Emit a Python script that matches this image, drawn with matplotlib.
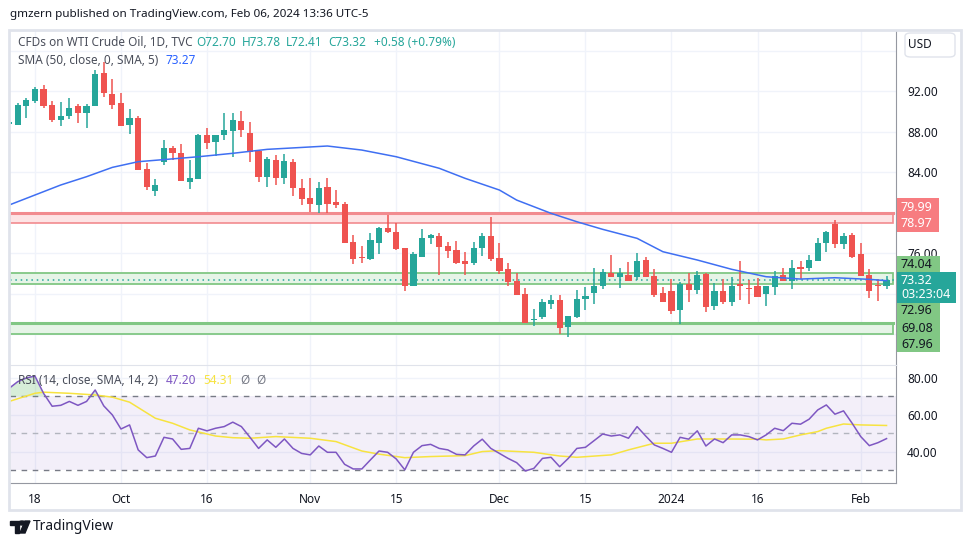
import numpy as np
import matplotlib.pyplot as plt
from matplotlib.patches import Rectangle, FancyBboxPatch, Polygon, Circle

W, H = 970, 545

# daily candles, Sep 13 2023 .. Feb 06 2024
opens = [88.7, 88.6, 90.5, 91.0, 92.2, 90.6, 89.1, 89.5, 90.5, 89.8,
         90.5, 93.75, 91.7, 90.85, 88.6, 89.35, 84.3, 82.15, 84.95, 86.35,
         85.85, 83.05, 83.3, 87.65, 87.0, 87.7, 88.05, 89.0, 87.9, 86.05,
         83.55, 85.2, 83.45, 85.0, 82.4, 81.4, 80.7, 82.5, 81.0, 80.85,
         77.1, 75.6, 75.4, 77.0, 78.45, 78.05, 76.45, 72.75, 75.65, 77.45,
         77.7, 76.7, 76.3, 75.2, 75.0, 76.45, 77.7, 75.5, 74.4, 73.2,
         72.0, 69.4, 69.7, 71.0, 71.35, 68.7, 69.7, 71.5, 72.1, 72.75,
         74.0, 73.65, 73.8, 73.65, 75.3, 73.7, 72.1, 72.2, 70.4, 72.95,
         72.3, 73.9, 70.8, 72.2, 71.2, 72.95, 72.5, 72.75, 72.0, 72.6,
         73.8, 73.25, 74.6, 74.5, 75.25, 76.95, 78.9, 76.85, 77.8, 75.9,
         73.8, 72.85, 72.70]
highs = [88.95, 90.8, 91.3, 92.4, 92.6, 91.0, 90.9, 91.3, 90.7, 90.7,
         94.1, 94.9, 93.2, 91.8, 90.2, 89.5, 84.85, 83.3, 87.2, 86.6,
         86.8, 85.2, 87.8, 88.3, 87.7, 89.85, 89.8, 90.0, 88.9, 86.2,
         85.5, 85.7, 85.8, 85.3, 83.3, 83.4, 83.0, 83.4, 82.2, 81.0,
         77.75, 76.7, 78.0, 78.6, 79.75, 79.0, 76.5, 76.15, 78.4, 77.9,
         77.95, 77.1, 77.2, 76.1, 77.1, 78.0, 79.6, 77.0, 75.0, 74.0,
         72.5, 70.45, 71.5, 71.9, 71.9, 69.8, 72.35, 72.6, 74.5, 74.4,
         75.8, 74.5, 75.1, 76.0, 75.6, 74.4, 72.6, 73.4, 73.15, 74.0,
         74.2, 74.0, 73.0, 73.4, 73.65, 75.2, 73.3, 73.5, 72.75, 74.2,
         74.5, 75.3, 75.2, 75.8, 77.5, 78.2, 79.25, 78.0, 78.0, 76.95,
         74.4, 73.4, 73.78]
lows = [88.6, 88.6, 89.3, 90.8, 90.3, 88.9, 88.5, 89.2, 88.8, 88.3,
        90.5, 91.4, 90.2, 88.5, 87.75, 84.2, 82.2, 81.6, 84.7, 85.2,
        83.1, 82.3, 83.3, 86.3, 85.6, 87.2, 85.5, 87.45, 85.0, 83.05,
        82.5, 82.7, 82.85, 81.6, 80.75, 80.1, 80.0, 80.0, 80.45, 77.0,
        74.9, 75.0, 75.3, 75.9, 78.0, 76.3, 72.2, 72.75, 75.6, 76.9,
        73.8, 75.5, 74.9, 73.8, 74.8, 75.75, 75.2, 73.9, 72.7, 71.85,
        69.1, 68.8, 69.5, 70.5, 68.0, 67.7, 69.6, 70.4, 71.0, 72.4,
        73.6, 72.5, 73.2, 73.3, 73.6, 71.7, 71.2, 70.0, 69.0, 71.2,
        72.0, 70.2, 70.4, 71.0, 70.8, 71.35, 71.0, 71.7, 70.75, 71.9,
        73.2, 72.4, 73.4, 74.2, 75.2, 76.1, 76.5, 76.4, 75.5, 73.75,
        71.6, 71.3, 72.41]
closes = [88.9, 90.6, 91.1, 92.2, 90.5, 89.1, 89.5, 90.3, 89.8, 90.5,
          93.7, 91.8, 90.6, 88.5, 89.3, 84.25, 82.5, 82.7, 86.35, 85.85,
          83.15, 83.4, 87.65, 86.9, 87.65, 88.15, 89.15, 88.15, 86.0, 83.5,
          85.3, 83.4, 85.1, 82.4, 81.3, 80.8, 82.4, 80.8, 80.75, 77.0,
          75.4, 75.55, 77.3, 78.5, 78.1, 76.4, 72.75, 75.95, 77.5, 77.8,
          76.6, 76.2, 75.05, 74.9, 76.45, 77.7, 75.4, 74.25, 73.15, 71.85,
          69.1, 69.5, 71.15, 71.35, 68.6, 69.8, 71.5, 71.75, 72.75, 74.1,
          73.65, 74.0, 73.25, 75.2, 73.65, 71.85, 71.2, 70.3, 72.9, 72.3,
          73.8, 70.7, 72.2, 71.2, 72.75, 72.7, 72.4, 71.7, 72.7, 73.75,
          73.25, 74.5, 74.4, 75.3, 77.0, 78.1, 76.85, 77.7, 75.65, 73.75,
          72.2, 72.7, 73.32]

sma_idx = [0, 3, 6, 9, 12, 15, 22, 26, 30, 37, 41, 45, 50, 53, 57, 59, 63, 66,
           69, 73, 76, 80, 84, 88, 92, 96, 100, 102]
sma_val = [80.74, 81.73, 82.72, 83.54, 84.46, 85.02, 85.51, 85.85, 86.24, 86.57,
           86.17, 85.51, 84.37, 83.38, 82.22, 81.23, 79.92, 79.09, 78.34, 77.45,
           76.13, 75.31, 74.39, 73.66, 73.43, 73.56, 73.40, 73.27]

rsi_val = [74.4, 78.0, 80.0, 81.0, 71.7, 64.7, 65.2, 67.3, 65.2, 67.3,
           73.5, 64.9, 60.0, 52.4, 54.6, 41.1, 36.9, 37.8, 47.9, 47.0,
           41.4, 41.9, 52.8, 51.4, 52.8, 53.7, 56.1, 53.7, 47.9, 41.9,
           46.5, 42.5, 47.0, 41.9, 39.2, 38.4, 43.2, 39.8, 39.8, 33.3,
           30.8, 30.8, 35.7, 40.5, 39.8, 36.2, 30.3, 39.8, 43.4, 44.1,
           41.9, 41.1, 38.7, 38.4, 43.2, 46.9, 41.9, 39.2, 36.5, 34.2,
           29.7, 31.1, 36.5, 37.1, 32.0, 36.5, 41.9, 42.5, 46.1, 49.7,
           48.6, 49.2, 47.4, 53.7, 48.6, 43.8, 41.9, 39.8, 47.9, 46.9,
           51.4, 43.2, 47.0, 45.0, 49.2, 49.2, 48.3, 46.5, 49.2, 52.8,
           51.5, 55.5, 55.0, 57.7, 62.7, 65.4, 60.4, 62.2, 55.5, 48.3,
           43.4, 45.0, 47.2]

rsi_sma_idx = [0, 3, 4, 7, 10, 12, 14, 17, 19, 21, 24, 26, 28, 31, 35, 38, 41,
               43, 46, 49, 53, 55, 57, 61, 64, 66, 70, 72, 75, 77, 80, 83, 87,
               88, 90, 92, 94, 95, 97, 99, 102]
rsi_sma_val = [67.3, 71.7, 72.3, 71.7, 70.8, 69.6, 66.9, 58.2, 55.5, 51.9, 48.6,
               47.7, 47.4, 48.3, 47.4, 45.6, 40.5, 38.8, 36.9, 37.5, 38.0, 40.2,
               40.7, 39.8, 37.8, 37.1, 38.4, 41.1, 44.7, 44.7, 47.0, 47.0, 46.9,
               46.5, 47.0, 49.2, 51.0, 52.8, 55.1, 54.6, 54.3]

tick_idx = [3, 13, 23, 35, 45, 57, 67, 77, 87, 99]
tick_labels = ["18", "Oct", "16", "Nov", "15", "Dec", "15", "2024", "16", "Feb"]

price_ticks = [68, 72, 76, 80, 84, 88, 92, 96]
price_labeled = [76, 84, 88, 92]   # the rest sit under the label boxes
rsi_ticks = [40, 60, 80]

red_zone = (78.97, 79.99)
green_zones = [(72.96, 74.04), (67.96, 69.08)]
last_price = 73.32

UP = "#26a69a"
DOWN = "#ef5350"
GRID = "#f0f3fa"
TXT = "#131722"
AXC = "#9598a1"
FONT = ["Noto Sans", "DejaVu Sans"]

plt.rcParams["font.family"] = FONT


def fx(x):
    return x / W


def fy(y):
    return 1 - y / H


fig = plt.figure(figsize=(W / 100, H / 100), dpi=100)

ax = fig.add_axes([fx(10), fy(365), fx(886), 334 / H])
ax_rsi = fig.add_axes([fx(10), fy(483), fx(886), 118 / H], sharex=ax)

x = np.arange(len(closes))
o = np.array(opens)
c = np.array(closes)
colors = np.where(c >= o, UP, DOWN)

# price pane
ax.set_xlim(0.1, 103.1)
ax.set_ylim(64.94, 97.93)
for t in tick_idx:
    ax.axvline(t, color=GRID, lw=1, zorder=0)
for p in price_ticks:
    ax.axhline(p, color=GRID, lw=1, zorder=0)

zone_end = 102.8
lo, hi = red_zone
ax.add_patch(Rectangle((0.1, lo), zone_end - 0.1, hi - lo, facecolor="#fde4e5",
                       edgecolor="#f28b8f", lw=1.2, zorder=1))
ax.plot([0.1, zone_end], [hi, hi], color="#f28b8f", lw=2.2, zorder=1)
for k, (lo, hi) in enumerate(green_zones):
    ax.add_patch(Rectangle((0.1, lo), zone_end - 0.1, hi - lo, facecolor="#e6f4e7",
                           edgecolor="#81c784", lw=1.3, zorder=1))
    if k == 1:
        ax.plot([0.1, zone_end], [hi, hi], color="#81c784", lw=2.2, zorder=1)

ax.axhline(last_price, color=UP, lw=1.1, ls=(0, (1, 2.5)), zorder=2)

ax.vlines(x, lows, highs, colors=colors, lw=1.1, zorder=3)
body = np.maximum(np.abs(c - o), 0.09)
ax.bar(x, body, bottom=np.minimum(o, c), width=0.72, color=colors, lw=0, zorder=4)

ax.plot(sma_idx, sma_val, color="#3f6ff2", lw=1.1, zorder=5)

ax.yaxis.tick_right()
ax.set_yticks(price_ticks)
ax.set_yticklabels([f"{p:.2f}" if p in price_labeled else "" for p in price_ticks],
                   fontsize=8.5, color=TXT)
ax.tick_params(axis="y", length=0, pad=8)
ax.tick_params(axis="x", length=0, labelbottom=False)
for s in ["top", "left", "bottom"]:
    ax.spines[s].set_visible(False)
ax.spines["right"].set_color(AXC)

# rsi pane
ax_rsi.set_ylim(23.2, 87.0)
for t in tick_idx:
    ax_rsi.axvline(t, color=GRID, lw=1, zorder=0)
for v in rsi_ticks:
    ax_rsi.axhline(v, color=GRID, lw=1, zorder=0)
ax_rsi.axhspan(30, 70, color="#7e57c2", alpha=0.09, lw=0, zorder=0)
for v, col in [(70, "#787b86"), (50, "#b2b5be"), (30, "#787b86")]:
    ax_rsi.axhline(v, color=col, lw=1, ls=(0, (4, 4)), zorder=1)
rv = np.array(rsi_val)
ax_rsi.fill_between(x, rv, 70, where=rv > 70, interpolate=True,
                    color="#4caf50", alpha=0.22, lw=0, zorder=1)
ax_rsi.fill_between(x, rv, 30, where=rv < 30, interpolate=True,
                    color="#f44336", alpha=0.22, lw=0, zorder=1)
ax_rsi.plot(rsi_sma_idx, rsi_sma_val, color="#f7e340", lw=1.1, zorder=2)
ax_rsi.plot(x, rv, color="#7e57c2", lw=1.1, zorder=3)

ax_rsi.yaxis.tick_right()
ax_rsi.set_yticks(rsi_ticks)
ax_rsi.set_yticklabels([f"{v:.2f}" for v in rsi_ticks], fontsize=8.5, color=TXT)
ax_rsi.tick_params(axis="y", length=0, pad=8)
ax_rsi.set_xticks(tick_idx)
ax_rsi.set_xticklabels(tick_labels, fontsize=8.5, color=TXT)
ax_rsi.tick_params(axis="x", length=0, pad=7)
for lab in ax_rsi.get_xticklabels():
    if lab.get_text() == "2024":
        lab.set_fontweight("bold")
ax_rsi.spines["top"].set_color("#e0e3eb")
ax_rsi.spines["left"].set_visible(False)
ax_rsi.spines["right"].set_color(AXC)
ax_rsi.spines["bottom"].set_color(AXC)


# legends inside panes
def ftext(xp, yp, s, color=TXT, size=8.5, **kw):
    fig.text(fx(xp), fy(yp), s, color=color, fontsize=size, va="center", ha="left", **kw)


ftext(10, 15, "gmzern published on TradingView.com, Feb 06, 2024 13:36 UTC-5", size=8.4)
ftext(18, 42, "CFDs on WTI Crude Oil, 1D, TVC", color="#4a4e5a")
for xp, s in [(196, "O72.70"), (242, "H73.78"), (286, "L72.41"), (328, "C73.32"),
              (374, "+0.58 (+0.79%)")]:
    ftext(xp, 42, s, color=UP)
ftext(18, 60, "SMA (50, close, 0, SMA, 5)", color="#4a4e5a")
ftext(165, 60, "73.27", color="#2962ff")
ftext(18, 380, "RSI (14, close, SMA, 14, 2)", color="#4a4e5a")
ftext(166, 380, "47.20", color="#7e57c2")
ftext(203, 380, "54.31", color="#f7e340")
ftext(240, 380, "Ø", color="#787b86")
ftext(256, 380, "Ø", color="#787b86")


# price-axis label boxes
def fbox(x0, y0, x1, y1, color):
    fig.patches.append(Rectangle((fx(x0), fy(y1)), fx(x1 - x0), (y1 - y0) / H,
                                 transform=fig.transFigure, facecolor=color,
                                 edgecolor="none", zorder=3))


fbox(897, 198, 939, 232, "#f77c80")
ftext(901, 207, "79.99", color="white", size=9)
ftext(901, 223, "78.97", color="white", size=9)
fbox(897, 256, 940, 352, "#81c784")
fbox(897, 272, 956, 303, UP)
ftext(901, 264, "74.04", color=TXT, size=9)
ftext(901, 280, "73.32", color="white", size=9)
ftext(901, 295, "03:23:04", color="white", size=9)
ftext(901, 311, "72.96", color=TXT, size=9)
ftext(901, 328, "69.08", color=TXT, size=9)
ftext(901, 345, "67.96", color=TXT, size=9)

fig.patches.append(FancyBboxPatch((fx(905), fy(57)), fx(50), 24 / H,
                                  boxstyle="round,pad=0,rounding_size=0.006",
                                  transform=fig.transFigure, facecolor="white",
                                  edgecolor="#e0e3eb", lw=1, zorder=3))
ftext(908, 45, "USD", color=TXT, size=8.5)

# outer chart frame
fig.patches.append(Rectangle((fx(9), fy(510)), fx(952), 480 / H, transform=fig.transFigure,
                             facecolor="none", edgecolor="#e0e3eb", lw=2, zorder=2))

# TradingView logo
fig.patches.append(Polygon([(fx(10), fy(521)), (fx(19), fy(521)), (fx(19), fy(533)),
                            (fx(15), fy(533)), (fx(15), fy(525)), (fx(10), fy(525))],
                           transform=fig.transFigure, color=TXT, zorder=3))
fig.patches.append(Circle((fx(22), fy(523)), 2 / H, transform=fig.transFigure,
                          color=TXT, zorder=3))
fig.patches.append(Polygon([(fx(25), fy(521)), (fx(30), fy(521)), (fx(25), fy(533)),
                            (fx(20), fy(533))],
                           transform=fig.transFigure, color=TXT, zorder=3))
ftext(33, 527, "TradingView", color=TXT, size=10)

fig.savefig("out.png", dpi=100)
